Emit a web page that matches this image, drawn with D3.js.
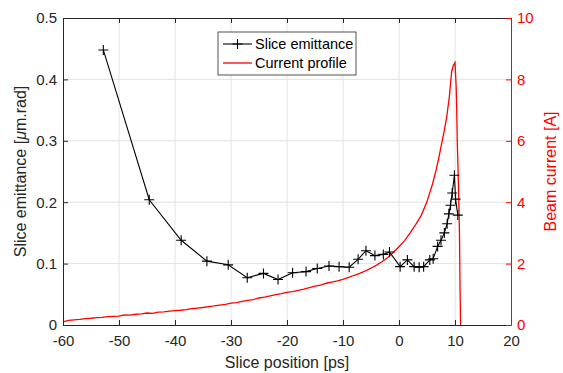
<!DOCTYPE html>
<html>
<head>
<meta charset="utf-8">
<script src="https://cdn.jsdelivr.net/npm/d3@7"></script>
<style>
  html, body { margin: 0; padding: 0; background: #fff; }
  #chart { width: 563px; height: 373px; }
  text { font-family: "Liberation Sans", Arial, sans-serif; }
</style>
</head>
<body>
<div id="chart"></div>
<script>
// slice emittance measurements [ps, um.rad]
const emitX = [-52.8, -44.6, -38.9, -34.3, -30.5, -27.1, -24.2, -21.6, -19.0, -16.6, -14.6, -12.5,
  -10.7, -8.9, -7.3, -5.9, -4.3, -2.8, -1.7, 0.2, 1.5, 2.7, 3.6, 4.4, 5.5, 6.1, 6.9, 7.5, 8.1,
  8.6, 8.9, 9.2, 9.5, 9.9, 10.1, 10.5];
const emitY = [0.448, 0.204, 0.138, 0.104, 0.098, 0.077, 0.084, 0.074, 0.085, 0.087, 0.092, 0.096,
  0.095, 0.094, 0.107, 0.121, 0.113, 0.115, 0.119, 0.095, 0.106, 0.095, 0.094, 0.095, 0.106, 0.108, 0.128, 0.138, 0.150,
  0.165, 0.181, 0.195, 0.215, 0.244, 0.205, 0.179];

// current profile [ps, A]
const curX = [-60, -59, -58, -57, -56, -55, -54, -53, -52, -51, -50, -49, -48, -47, -46, -45, -44, -43,
  -42, -41, -40, -39, -38, -37, -36, -35, -34, -33, -32, -31, -30, -29, -28, -27, -26, -25, -24, -23,
  -22, -21, -20, -19, -18, -17, -16, -15, -14, -13, -12, -11, -10, -9, -8, -7, -6, -5, -4, -3, -2, -1,
  0, 1, 2, 3, 4, 5, 6, 6.5, 7, 7.5, 8, 8.5, 9, 9.4, 9.7, 10.0, 10.2, 10.3, 10.4, 10.6, 10.8, 10.9, 11.0];
const curY = [0.10, 0.15, 0.17, 0.18, 0.21, 0.22, 0.24, 0.25, 0.27, 0.28, 0.29, 0.33, 0.32, 0.35, 0.36, 0.39, 0.38, 0.42,
  0.43, 0.45, 0.47, 0.48, 0.50, 0.53, 0.55, 0.57, 0.60, 0.62, 0.65, 0.67, 0.71, 0.73, 0.77, 0.80, 0.83, 0.88, 0.91, 0.95,
  0.99, 1.02, 1.06, 1.09, 1.13, 1.17, 1.22, 1.27, 1.30, 1.36, 1.40, 1.44, 1.49, 1.55, 1.62, 1.68, 1.76, 1.85, 1.95, 2.07, 2.20, 2.36,
  2.55, 2.75, 3.00, 3.28, 3.58, 4.02, 4.60, 4.95, 5.35, 5.80, 6.25, 6.75, 7.45, 8.25, 8.45, 8.55, 7.80, 7.10, 6.00, 4.70, 3.00, 1.20, 0];

const xTicks = [-60, -50, -40, -30, -20, -10, 0, 10, 20];
const yTicks = [0, 0.1, 0.2, 0.3, 0.4, 0.5];
const y2Ticks = [0, 2, 4, 6, 8, 10];

const W = 563, H = 373;
const M = {t: 18, r: 52, b: 48, l: 63};
const axisCol = '#262626', red = '#ff0000';

const svg = d3.select('#chart').append('svg').attr('width', W).attr('height', H);

const x = d3.scaleLinear().domain([-60, 20]).range([M.l, W - M.r]);
const y = d3.scaleLinear().domain([0, 0.5]).range([H - M.b, M.t]);
const y2 = d3.scaleLinear().domain([0, 10]).range([H - M.b, M.t]);

// grid
const grid = svg.append('g').attr('stroke', '#e3e3e3').attr('stroke-width', 1);
xTicks.slice(1, -1).forEach(t => {
  grid.append('line').attr('x1', x(t)).attr('x2', x(t)).attr('y1', y(0)).attr('y2', y(0.5));
});
yTicks.slice(1, -1).forEach(t => {
  grid.append('line').attr('x1', x(-60)).attr('x2', x(20)).attr('y1', y(t)).attr('y2', y(t));
});

// current profile
const curData = curX.map((v, i) => [v, curY[i]]);
svg.append('path')
  .datum(curData)
  .attr('fill', 'none')
  .attr('stroke', red)
  .attr('stroke-width', 1.3)
  .attr('d', d3.line().x(d => x(d[0])).y(d => y2(d[1])));

// slice emittance
const emData = emitX.map((v, i) => [v, emitY[i]]);
svg.append('path')
  .datum(emData)
  .attr('fill', 'none')
  .attr('stroke', '#000')
  .attr('stroke-width', 1.1)
  .attr('d', d3.line().x(d => x(d[0])).y(d => y(d[1])));

svg.append('g').selectAll('path.mk')
  .data(emData)
  .enter()
  .append('path')
  .attr('transform', d => `translate(${x(d[0])},${y(d[1])})`)
  .attr('d', 'M-5,0H5M0,-5V5')
  .attr('stroke', '#000')
  .attr('stroke-width', 1.1)
  .attr('fill', 'none');

// axes (inward ticks, MATLAB style)
const fs = '15px';
const gBottom = svg.append('g')
  .attr('transform', `translate(0,${H - M.b})`)
  .call(d3.axisBottom(x).tickValues(xTicks).tickSizeInner(-5).tickSizeOuter(0).tickPadding(10)
    .tickFormat(d => String(d)));
gBottom.select('.domain').attr('stroke', axisCol);
gBottom.selectAll('line').attr('stroke', axisCol);
gBottom.selectAll('text').attr('font-size', fs).attr('fill', axisCol);

const gTop = svg.append('g')
  .attr('transform', `translate(0,${M.t})`)
  .call(d3.axisTop(x).tickValues(xTicks).tickSizeInner(-5).tickSizeOuter(0).tickFormat(''));
gTop.select('.domain').attr('stroke', axisCol);
gTop.selectAll('line').attr('stroke', axisCol);

const gLeft = svg.append('g')
  .attr('transform', `translate(${M.l},0)`)
  .call(d3.axisLeft(y).tickValues(yTicks).tickSizeInner(-5).tickSizeOuter(0).tickPadding(6)
    .tickFormat(d => d === 0 ? '0' : d3.format('.1f')(d)));
gLeft.select('.domain').attr('stroke', axisCol);
gLeft.selectAll('line').attr('stroke', axisCol);
gLeft.selectAll('text').attr('font-size', fs).attr('fill', axisCol);

const gRight = svg.append('g')
  .attr('transform', `translate(${W - M.r},0)`)
  .call(d3.axisRight(y2).tickValues(y2Ticks).tickSizeInner(-5).tickSizeOuter(0).tickPadding(6));
gRight.select('.domain').attr('stroke', red);
gRight.selectAll('line').attr('stroke', red);
gRight.selectAll('text').attr('font-size', fs).attr('fill', red);

// axis labels
svg.append('text')
  .attr('x', (M.l + W - M.r) / 2)
  .attr('y', 368)
  .attr('text-anchor', 'middle')
  .attr('font-size', '16px')
  .attr('fill', axisCol)
  .text('Slice position [ps]');

const yl = svg.append('text')
  .attr('transform', `translate(26,${(M.t + H - M.b) / 2}) rotate(-90)`)
  .attr('text-anchor', 'middle')
  .attr('font-size', '16px')
  .attr('fill', axisCol);
yl.append('tspan').text('Slice emittance [');
yl.append('tspan').attr('font-style', 'italic').text('μ');
yl.append('tspan').text('m.rad]');

svg.append('text')
  .attr('transform', `translate(556,${(M.t + H - M.b) / 2}) rotate(-90)`)
  .attr('text-anchor', 'middle')
  .attr('font-size', '16px')
  .attr('fill', red)
  .text('Beam current [A]');

// legend
const lg = svg.append('g').attr('transform', 'translate(218,32)');
lg.append('rect')
  .attr('width', 138).attr('height', 43)
  .attr('fill', '#fff').attr('stroke', '#262626').attr('stroke-width', 0.8);
const items = [
  {label: 'Slice emittance', color: '#000', marker: true},
  {label: 'Current profile', color: red, marker: false}
];
items.forEach((it, i) => {
  const row = lg.append('g').attr('transform', `translate(0,${12 + i * 19})`);
  row.append('line').attr('x1', 5).attr('x2', 34).attr('y1', 0).attr('y2', 0)
    .attr('stroke', it.color).attr('stroke-width', it.marker ? 1.1 : 1.3);
  if (it.marker) {
    row.append('path').attr('d', 'M14.5,0H24.5M19.5,-5V5').attr('stroke', '#000').attr('stroke-width', 1.1);
  }
  row.append('text').attr('x', 37).attr('y', 5).attr('font-size', '14.5px').attr('fill', '#000').text(it.label);
});
</script>
</body>
</html>
